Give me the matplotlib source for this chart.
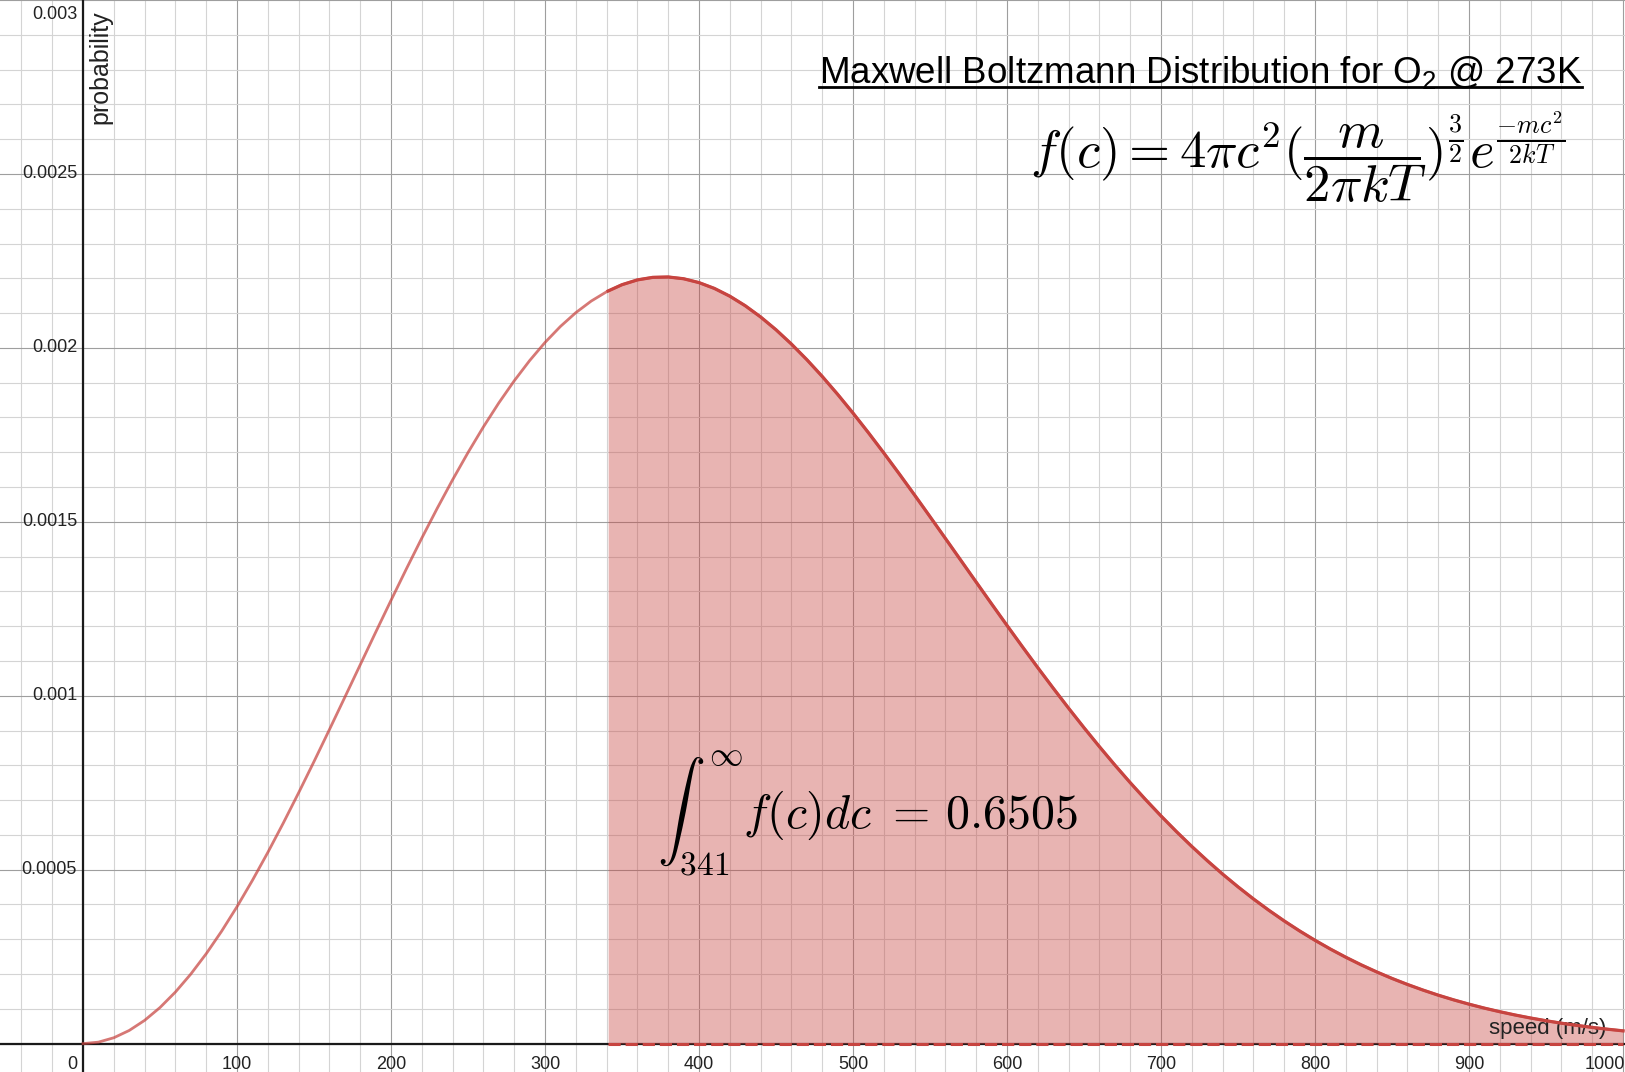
import numpy as np
import matplotlib
matplotlib.use("Agg")
import matplotlib.pyplot as plt

# speed (m/s) every 10 m/s and probability density
speed = list(range(0, 1001, 10))
prob = [0, 4.22e-6, 1.6845e-5, 3.7768e-5, 6.681e-5, 1.0373e-4, 1.4822e-4, 1.9991e-4,
        2.5835e-4, 3.2309e-4, 3.9357e-4, 4.6923e-4, 5.4944e-4, 6.3355e-4, 7.2090e-4,
        8.1083e-4, 9.0262e-4, 9.9555e-4, 1.0889e-3, 1.1821e-3, 1.2742e-3, 1.3648e-3,
        1.4532e-3, 1.5387e-3, 1.6208e-3, 1.6990e-3, 1.7728e-3, 1.8417e-3, 1.9052e-3,
        1.9633e-3, 2.0155e-3, 2.0615e-3, 2.1012e-3, 2.1345e-3, 2.1613e-3, 2.1816e-3,
        2.1954e-3, 2.2027e-3, 2.2038e-3, 2.1987e-3, 2.1876e-3, 2.1709e-3, 2.1486e-3,
        2.1212e-3, 2.0889e-3, 2.0521e-3, 2.0110e-3, 1.9662e-3, 1.9180e-3, 1.8666e-3,
        1.8126e-3, 1.7562e-3, 1.6979e-3, 1.6380e-3, 1.5769e-3, 1.5148e-3, 1.4522e-3,
        1.3894e-3, 1.3266e-3, 1.2640e-3, 1.2021e-3, 1.1409e-3, 1.0807e-3, 1.0218e-3,
        9.642e-4, 9.081e-4, 8.537e-4, 8.010e-4, 7.502e-4, 7.014e-4, 6.545e-4, 6.096e-4,
        5.668e-4, 5.261e-4, 4.873e-4, 4.507e-4, 4.160e-4, 3.834e-4, 3.527e-4, 3.239e-4,
        2.970e-4, 2.718e-4, 2.483e-4, 2.264e-4, 2.062e-4, 1.874e-4, 1.701e-4, 1.541e-4,
        1.393e-4, 1.258e-4, 1.134e-4, 1.020e-4, 9.17e-5, 8.22e-5, 7.36e-5, 6.58e-5,
        5.87e-5, 5.24e-5, 4.66e-5, 4.14e-5, 3.67e-5]
lower_limit = 341
prob_at_limit = 2.1636e-3

x_ticks = [100, 200, 300, 400, 500, 600, 700, 800, 900, 1000]
y_ticks = [0.0005, 0.001, 0.0015, 0.002, 0.0025, 0.003]
y_tick_labels = ["0.0005", "0.001", "0.0015", "0.002", "0.0025", "0.003"]

title = "Maxwell Boltzmann Distribution for O$_2$ @ 273K"
formula = r"$f(c) = 4\pi c^2(\dfrac{m}{2\pi kT})^{\frac{3}{2}}e^{\frac{-mc^2}{2kT}}$"
integral = r"$\int_{341}^{\infty}f(c)dc\ =\,0.6505$"

plt.rcParams["font.family"] = ["Liberation Sans", "DejaVu Sans"]
plt.rcParams["mathtext.fontset"] = "custom"
plt.rcParams["mathtext.rm"] = "Liberation Sans"
plt.rcParams["mathtext.it"] = "Liberation Sans:italic"

W, H = 1625, 1072
fig = plt.figure(figsize=(W / 100, H / 100), dpi=100)
ax = fig.add_axes([0, 0, 1, 1])

x_min, x_max = -53.9, 1001.3
y_min, y_max = -0.0000816, 0.002999
ax.set_xlim(x_min, x_max)
ax.set_ylim(y_min, y_max)

# desmos-like grid
ax.set_xticks(np.arange(0, 1001, 100))
ax.set_xticks(np.arange(-40, 1001, 20), minor=True)
ax.set_yticks(np.arange(0, 0.00301, 0.0005))
ax.set_yticks(np.arange(0, 0.00301, 0.0001), minor=True)
ax.grid(which="major", color="#9e9e9e", lw=0.8)
ax.grid(which="minor", color="#d4d4d4", lw=0.8)
ax.tick_params(which="both", length=0, labelbottom=False, labelleft=False)
ax.set_axisbelow(True)
for s in ax.spines.values():
    s.set_visible(False)
ax.axhline(0, color="#1a1a1a", lw=1.6, zorder=2)
ax.axvline(0, color="#1a1a1a", lw=1.6, zorder=2)

speed = np.array(speed)
prob = np.array(prob)
right = speed > lower_limit
shade_x = np.concatenate([[lower_limit], speed[right]])
shade_y = np.concatenate([[prob_at_limit], prob[right]])

ax.fill_between(shade_x, 0, shade_y, color="#c74440", alpha=0.4, lw=0, zorder=3)
ax.plot(speed, prob, color="#c74440", alpha=0.72, lw=2.0, zorder=4)
ax.plot(shade_x, shade_y, color="#c74440", lw=2.3, zorder=5)
ax.plot([lower_limit, speed[-1]], [0, 0], color="#c74440", lw=2.2, ls=(0, (4, 1.6)), zorder=5)

# tick labels, desmos style (clamped inside the view)
px = (x_max - x_min) / W
py = (y_max - y_min) / H
for t in x_ticks:
    xt, ha = t, "center"
    if t + 22 * px > x_max:
        xt, ha = x_max, "right"
    ax.text(xt, -12 * py, str(t), ha=ha, va="top", fontsize=13, color="#222222")
ax.text(-6 * px, -12 * py, "0", ha="right", va="top", fontsize=13, color="#222222")
for t, lab in zip(y_ticks, y_tick_labels):
    yt = min(t, y_max - 14 * py)
    ax.text(-6 * px, yt, lab, ha="right", va="center", fontsize=13, color="#222222")

ax.text(17 * px, y_max - 10 * py, "probability", rotation=90, ha="center", va="top",
        fontsize=18, color="#222222")
ax.text(x_max - 19 * px, 10 * py, "speed (m/s)", ha="right", va="baseline",
        fontsize=16, color="#222222")

t = fig.text(1582 / W, 1 - 83 / H, title, ha="right", va="baseline", fontsize=26.5, color="black")
fig.text(1565 / W, 1 - 157 / H, formula, ha="right", va="center", fontsize=38,
         math_fontfamily="cm")
ax.text(lower_limit + 32, 0.000663, integral, ha="left", va="center", fontsize=34.5,
        math_fontfamily="cm", zorder=6)

# underline the title
fig.canvas.draw()
bb = t.get_window_extent()
y_line = 1 - 87 / H
fig.add_artist(plt.Line2D([bb.x0 / W, bb.x1 / W], [y_line, y_line], color="black", lw=2.0))

fig.savefig("out.png", dpi=100)
